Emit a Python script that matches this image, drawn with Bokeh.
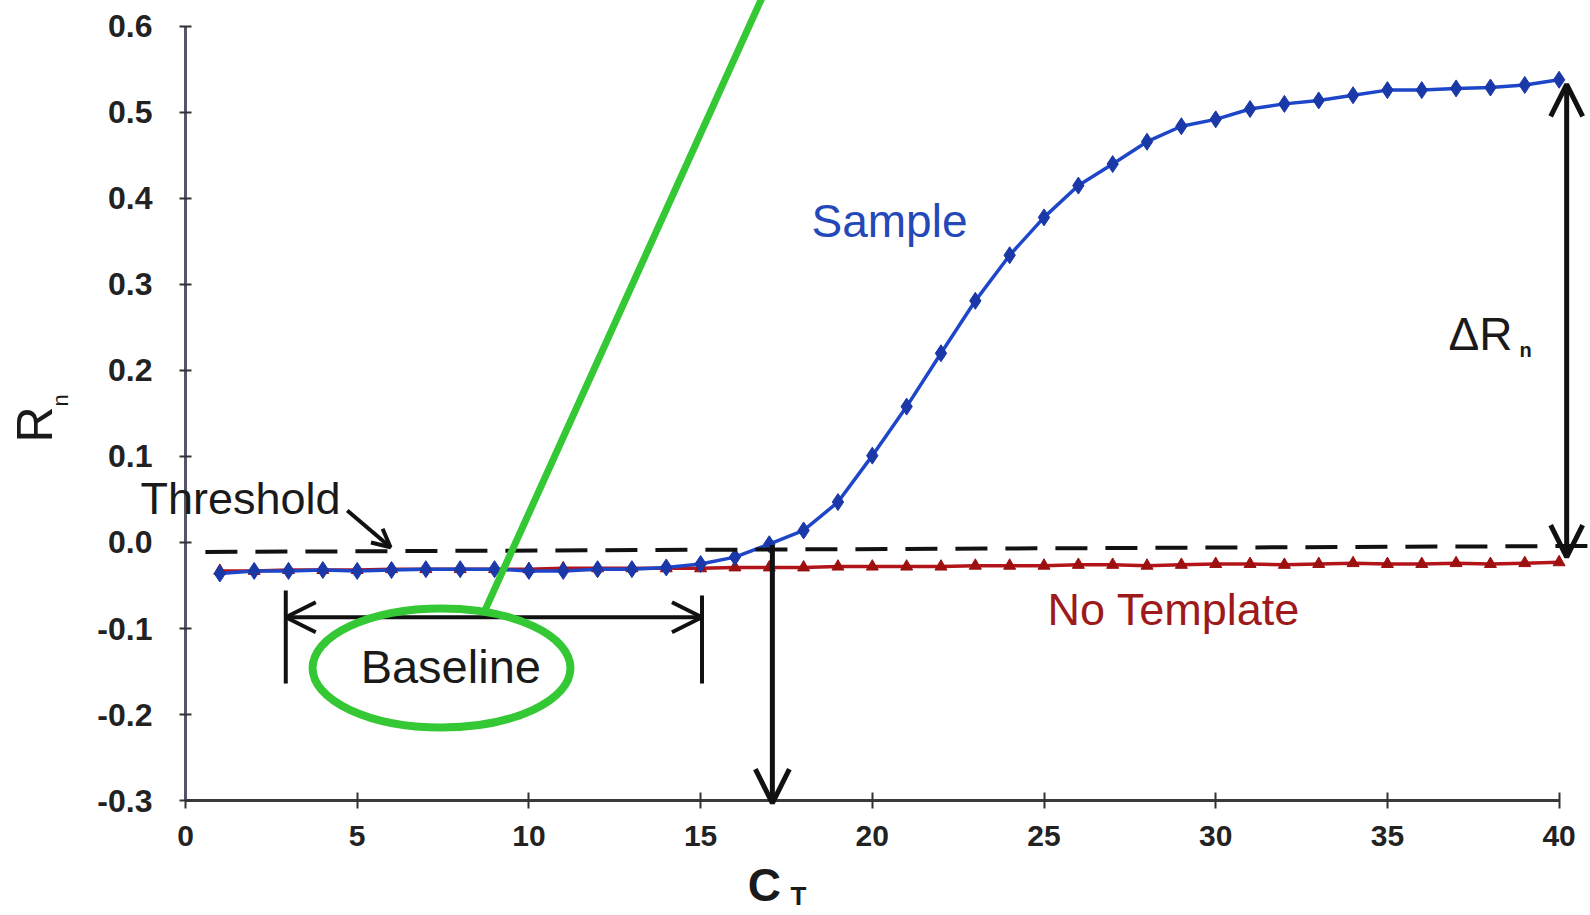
import math
from bokeh.plotting import figure
from bokeh.models import Range1d, FixedTicker, Label, Arrow, OpenHead
from bokeh.embed import file_html
from bokeh.resources import INLINE

# ---------------- data ----------------
cycles = list(range(1, 41))
sample_rn = [-0.036, -0.033, -0.033, -0.032, -0.033, -0.032, -0.031, -0.031, -0.031, -0.033,
             -0.033, -0.031, -0.031, -0.029, -0.025, -0.017, -0.002, 0.014, 0.047, 0.101,
             0.158, 0.220, 0.281, 0.334, 0.378, 0.415, 0.440, 0.466, 0.484, 0.492,
             0.504, 0.510, 0.514, 0.520, 0.526, 0.526, 0.528, 0.529, 0.532, 0.538]
no_template_rn = [-0.033, -0.033, -0.032, -0.032, -0.032, -0.031, -0.031, -0.031, -0.031, -0.031,
                  -0.030, -0.030, -0.030, -0.030, -0.030, -0.029, -0.029, -0.029, -0.028, -0.028,
                  -0.028, -0.028, -0.027, -0.027, -0.027, -0.026, -0.026, -0.027, -0.026, -0.025,
                  -0.025, -0.026, -0.025, -0.024, -0.025, -0.025, -0.024, -0.025, -0.024, -0.023]
threshold_x = [0.58, 40.95]
threshold_rn = [-0.011, -0.004]
x_ticks = [0, 5, 10, 15, 20, 25, 30, 35, 40]
y_ticks = [-0.3, -0.2, -0.1, 0.0, 0.1, 0.2, 0.3, 0.4, 0.5, 0.6]
y_tick_labels = ["-0.3", "-0.2", "-0.1", "0.0", "0.1", "0.2", "0.3", "0.4", "0.5", "0.6"]
ct_cycle = 17.09
baseline_start = 2.92
baseline_end = 15.04

# ---------------- styles ----------------
BLUE_LINE = "#1e46c8"
BLUE_MARK = "#1a38a8"
RED_LINE = "#b3141a"
RED_MARK = "#9c1010"
GREEN = "#34c834"
SANS = "Liberation Sans"

p = figure(width=1590, height=915,
           x_range=Range1d(-5.387, 40.914), y_range=Range1d(-0.4337, 0.6302),
           output_backend="svg", toolbar_location=None,
           min_border_left=0, min_border_right=0, min_border_top=0, min_border_bottom=0)
p.outline_line_color = None
p.xgrid.visible = False
p.ygrid.visible = False
p.background_fill_color = "white"
p.border_fill_color = "white"

xa = p.xaxis[0]
xa.fixed_location = -0.3
xa.ticker = FixedTicker(ticks=x_ticks)
xa.bounds = (0, 40)
xa.axis_line_width = 3
xa.axis_line_color = "#3a3a3a"
xa.major_tick_in = 8
xa.major_tick_out = 8
xa.major_tick_line_width = 2
xa.major_tick_line_color = "#333333"
xa.minor_tick_line_color = None
xa.major_label_text_font = SANS
xa.major_label_text_font_size = "30px"
xa.major_label_text_font_style = "bold"
xa.major_label_text_color = "#222222"
xa.major_label_standoff = 17

ya = p.yaxis[0]
ya.fixed_location = 0
ya.ticker = FixedTicker(ticks=y_ticks)
ya.major_label_overrides = dict(zip(y_ticks, y_tick_labels))
ya.bounds = (-0.3, 0.6)
ya.axis_line_width = 3
ya.axis_line_color = "#55556a"
ya.major_tick_in = 6
ya.major_tick_out = 6
ya.major_tick_line_width = 2
ya.major_tick_line_color = "#333333"
ya.minor_tick_line_color = None
ya.major_label_text_font = SANS
ya.major_label_text_font_size = "32px"
ya.major_label_text_font_style = "bold"
ya.major_label_text_color = "#222222"
ya.major_label_standoff = 27

# ---------------- series ----------------
p.line(cycles, no_template_rn, line_color=RED_LINE, line_width=3.5)
p.scatter(cycles, no_template_rn, marker="triangle", size=12, fill_color=RED_MARK, line_color=RED_MARK)
p.line(cycles, sample_rn, line_color=BLUE_LINE, line_width=3.5)
p.scatter(cycles, sample_rn, marker="diamond", size=17, fill_color=BLUE_MARK, line_color=BLUE_MARK)
p.line(threshold_x, threshold_rn, line_color="#111111", line_width=4, line_dash="32 18")

# ---------------- annotations ----------------
def lab(x, y, text, size, color="#1a1a1a", font=SANS, style="normal", align="left",
        baseline="middle", angle=0.0):
    p.add_layout(Label(x=x, y=y, text=text, text_font=font, text_font_size=size,
                       text_font_style=style, text_color=color, text_align=align,
                       text_baseline=baseline, angle=angle))

lab(-1.31, 0.0512, "Threshold", "45px")
lab(18.23, 0.3733, "Sample", "46px", color="#2548b8")
lab(25.10, -0.0779, "No Template", "45px", color="#9e1a1a")
lab(5.10, -0.1442, "Baseline", "47px")
lab(36.78, 0.2424, "\u0394R", "46px")
lab(38.85, 0.2233, "n", "20px", style="bold")
# axis titles
lab(-4.37, 0.1372, "R", "50px", align="center", angle=math.pi / 2)
lab(-3.64, 0.1651, "n", "22px", align="center", angle=math.pi / 2)
lab(16.86, -0.3977, "C", "46px", style="bold", align="center")
lab(17.85, -0.4116, "T", "26px", style="bold", align="center")

# threshold pointer
p.add_layout(Arrow(x_start=4.71, y_start=0.0372, x_end=5.97, y_end=-0.0055,
                   line_width=4, line_color="#111111",
                   end=OpenHead(size=18, line_width=4, line_color="#111111")))
# CT arrow
p.add_layout(Arrow(x_start=ct_cycle, y_start=-0.003, x_end=ct_cycle, y_end=-0.303,
                   line_width=5, line_color="#111111",
                   end=OpenHead(size=34, line_width=5, line_color="#111111")))
# delta Rn arrow
p.add_layout(Arrow(x_start=40.22, y_start=-0.017, x_end=40.22, y_end=0.5326,
                   line_width=5, line_color="#111111",
                   start=OpenHead(size=32, line_width=5, line_color="#111111"),
                   end=OpenHead(size=32, line_width=5, line_color="#111111")))
# baseline bracket
p.segment(x0=[baseline_start, baseline_end], y0=[-0.0558, -0.0616],
          x1=[baseline_start, baseline_end], y1=[-0.164, -0.164],
          line_color="#111111", line_width=4)
p.add_layout(Arrow(x_start=baseline_start, y_start=-0.0869, x_end=baseline_end, y_end=-0.0869,
                   line_width=4, line_color="#111111",
                   start=OpenHead(size=30, line_width=4, line_color="#111111"),
                   end=OpenHead(size=30, line_width=4, line_color="#111111")))

# green highlight
p.line([8.70, 16.92], [-0.0807, 0.645], line_color=GREEN, line_width=7, level="overlay")
p.ellipse(x=[7.455], y=[-0.1459], width=7.51, height=0.1384, fill_alpha=0,
          line_color=GREEN, line_width=8, level="overlay")

open("out.html", "w").write(file_html(p, INLINE))
